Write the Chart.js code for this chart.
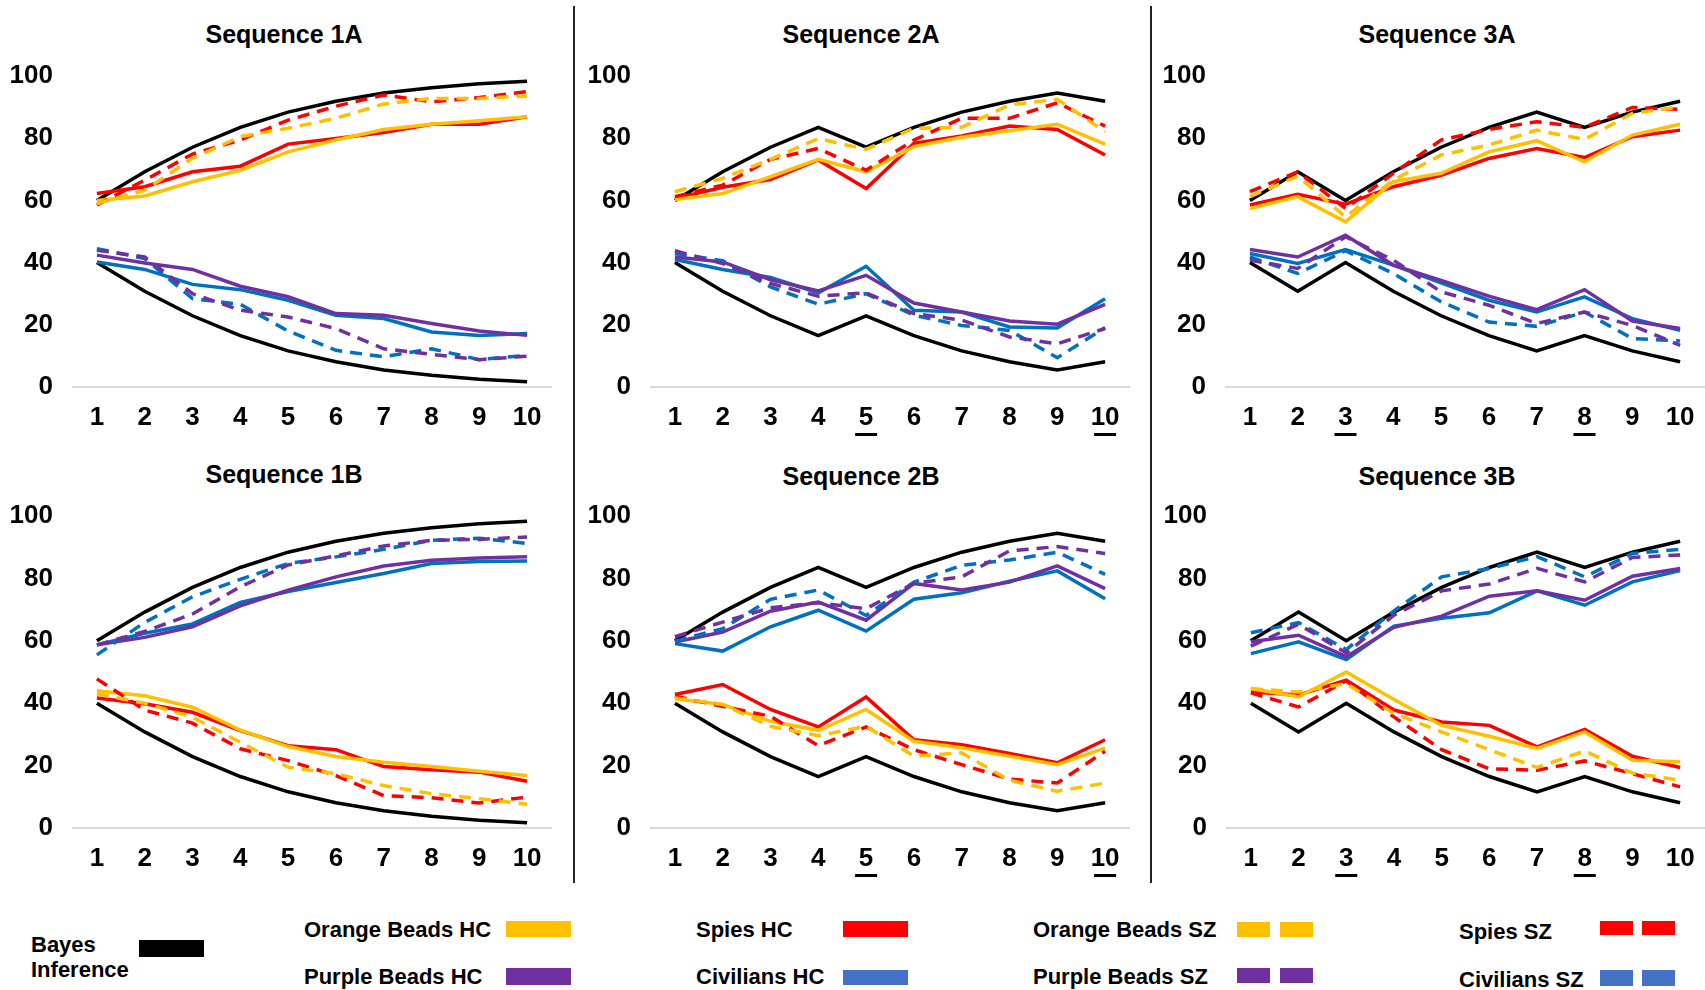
<!DOCTYPE html>
<html>
<head>
<meta charset="utf-8">
<script src="https://cdn.jsdelivr.net/npm/chart.js@4.4.1/dist/chart.umd.min.js"></script>
<style>
  body { margin: 0; background: #fff; font-family: "Liberation Sans", Arial, sans-serif; }
  #page { position: relative; width: 1705px; height: 990px; overflow: hidden; background: #fff; }
  canvas { position: absolute; }
  .title { position: absolute; font-weight: bold; font-size: 25px; transform: translate(-50%, -50%); white-space: nowrap; }
  .sep { position: absolute; width: 2px; background: #222; top: 6px; height: 877px; }
  .lg { position: absolute; font-weight: bold; font-size: 22px; line-height: 24px; white-space: nowrap; transform: translateY(-50%); }
  .sw { position: absolute; }
</style>
</head>
<body>
<div id="page">
  <div class="sep" style="left:573px"></div>
  <div class="sep" style="left:1150px"></div>

  <div class="title" style="left:284px;top:34px">Sequence 1A</div>
  <div class="title" style="left:861px;top:34px">Sequence 2A</div>
  <div class="title" style="left:1437px;top:34px">Sequence 3A</div>
  <div class="title" style="left:284px;top:474px">Sequence 1B</div>
  <div class="title" style="left:861px;top:476px">Sequence 2B</div>
  <div class="title" style="left:1437px;top:476px">Sequence 3B</div>

  <canvas id="c1A"></canvas>
  <canvas id="c2A"></canvas>
  <canvas id="c3A"></canvas>
  <canvas id="c1B"></canvas>
  <canvas id="c2B"></canvas>
  <canvas id="c3B"></canvas>

  <!-- legend -->
  <div class="lg" style="left:31px;top:945px">Bayes</div>
  <div class="lg" style="left:31px;top:970px">Inference</div>
  <div class="sw" style="left:139px;top:940px;width:65px;height:17px;background:#000"></div>

  <div class="lg" style="left:304px;top:930px">Orange Beads HC</div>
  <div class="sw" style="left:506px;top:921px;width:65px;height:16px;background:#FFC000"></div>
  <div class="lg" style="left:304px;top:977px">Purple Beads HC</div>
  <div class="sw" style="left:506px;top:968px;width:65px;height:17px;background:#7030A0"></div>

  <div class="lg" style="left:696px;top:930px">Spies HC</div>
  <div class="sw" style="left:843px;top:921px;width:65px;height:16px;background:#FF0000"></div>
  <div class="lg" style="left:696px;top:977px">Civilians HC</div>
  <div class="sw" style="left:843px;top:970px;width:65px;height:15px;background:#4472C4"></div>

  <div class="lg" style="left:1033px;top:930px">Orange Beads SZ</div>
  <div class="sw" style="left:1237px;top:922px;width:33px;height:15px;background:#FFC000"></div>
  <div class="sw" style="left:1280px;top:922px;width:33px;height:15px;background:#FFC000"></div>
  <div class="lg" style="left:1033px;top:977px">Purple Beads SZ</div>
  <div class="sw" style="left:1237px;top:968px;width:33px;height:15px;background:#7030A0"></div>
  <div class="sw" style="left:1280px;top:968px;width:33px;height:15px;background:#7030A0"></div>

  <div class="lg" style="left:1459px;top:932px">Spies SZ</div>
  <div class="sw" style="left:1600px;top:921px;width:33px;height:14px;background:#FF0000"></div>
  <div class="sw" style="left:1642px;top:921px;width:33px;height:14px;background:#FF0000"></div>
  <div class="lg" style="left:1459px;top:980px">Civilians SZ</div>
  <div class="sw" style="left:1600px;top:970px;width:33px;height:16px;background:#4472C4"></div>
  <div class="sw" style="left:1642px;top:970px;width:33px;height:16px;background:#4472C4"></div>
</div>

<script>
// ---- data (percent) ----
const xLabels = ["1", "2", "3", "4", "5", "6", "7", "8", "9", "10"];
const yMin = 0, yMax = 100, yStep = 20;

// Bayes inference (black)
const bayesUp1  = [60, 69.2, 77.1, 83.5, 88.4, 91.9, 94.5, 96.2, 97.5, 98.3];
const bayesLow1 = [40, 30.8, 22.9, 16.5, 11.6, 8.1, 5.5, 3.8, 2.5, 1.7];
const bayesUp2  = [60, 69.2, 77.1, 83.5, 77.1, 83.5, 88.4, 91.9, 94.5, 91.9];
const bayesLow2 = [40, 30.8, 22.9, 16.5, 22.9, 16.5, 11.6, 8.1, 5.5, 8.1];
const bayesUp3  = [60, 69.2, 60, 69.2, 77.1, 83.5, 88.4, 83.5, 88.4, 91.9];
const bayesLow3 = [40, 30.8, 40, 30.8, 22.9, 16.5, 11.6, 16.5, 11.6, 8.1];

// Sequence 1A
const orangeHC_1A = [60, 61.4, 66, 69.7, 75.6, 79.4, 82.8, 84.5, 85.6, 86.9];
const spiesHC_1A  = [62.2, 64.4, 69.2, 71, 78.1, 79.9, 81.8, 84.5, 84.5, 86.9];
const orangeSZ_1A = [59, 63.3, 73.5, 80.5, 83.2, 86.4, 91, 92.8, 92.8, 93.6];
const spiesSZ_1A  = [58.5, 66.5, 74.9, 79.4, 85.8, 90.3, 93.9, 91.7, 93.1, 95];
const purpleHC_1A = [42.4, 39.9, 37.8, 32.4, 29, 23.6, 23.1, 20.4, 18, 16.6];
const civHC_1A    = [40.2, 37.8, 33, 31.3, 27.9, 23.1, 22, 17.7, 16.6, 17.2];
const purpleSZ_1A = [44, 41.8, 30, 24.7, 22.5, 18.8, 12.3, 10.5, 8.8, 9.9];
const civSZ_1A    = [44.5, 41.3, 28.4, 26.6, 18, 11.8, 9.7, 12.3, 8.8, 10.2];

// Sequence 2A
const orangeHC_2A = [60.3, 62.2, 67.6, 73.2, 69.2, 77.3, 80.3, 82.4, 84.5, 78.1];
const spiesHC_2A  = [60.6, 64.2, 66.7, 73, 63.8, 78.3, 80.7, 83.9, 82.8, 74.6];
const orangeSZ_2A = [62.8, 67.1, 73.2, 79.9, 76.4, 83.2, 83.5, 90.7, 92.5, 82.1];
const spiesSZ_2A  = [61.2, 64.9, 73.2, 76.7, 69.7, 79.4, 86.4, 86.4, 91.4, 83.9];
const purpleHC_2A = [41.8, 40.2, 34.5, 30.9, 35.9, 27, 24.1, 21.2, 20.2, 26.6];
const civHC_2A    = [41, 37.8, 35.2, 30.3, 38.8, 24.7, 24.1, 19.3, 19, 28.4];
const purpleSZ_2A = [43.8, 39.7, 33.3, 29.2, 30.3, 23.6, 21.5, 16.1, 13.9, 18.8];
const civSZ_2A    = [42.9, 40.6, 32.2, 26.6, 30, 23.1, 19.8, 18.2, 9.4, 19.1];

// Sequence 3A
const orangeHC_3A = [57.4, 61.2, 53.1, 66, 68.7, 75.6, 79.2, 72.4, 81, 84.5];
const spiesHC_3A  = [58.5, 62, 58.8, 64.4, 68.1, 73.5, 76.7, 73.8, 80.5, 82.6];
const orangeSZ_3A = [61.2, 67.8, 54.7, 66.5, 74.6, 77.8, 82.6, 79.6, 88, 90.1];
const spiesSZ_3A  = [62.8, 69.2, 57.4, 68.7, 79.4, 82.8, 85.3, 83.5, 89.9, 89.3];
const purpleHC_3A = [44.2, 41.8, 48.8, 39.2, 34.3, 29.2, 24.9, 31.3, 21.2, 18.8];
const civHC_3A    = [42.9, 39.7, 44.2, 39.2, 33.5, 27.9, 24.1, 29, 22, 18.2];
const purpleSZ_3A = [40.8, 38.1, 48.3, 40.8, 30.6, 26.3, 20.4, 24.1, 19.8, 13.4];
const civSZ_3A    = [41.8, 36.5, 43.8, 36.5, 27.4, 20.9, 19.5, 24.1, 15.6, 14.8];

// Sequence 1B
const purpleHC_1B = [58.7, 61.1, 64.5, 71.2, 76.2, 80.5, 84, 85.8, 86.5, 86.9];
const civHC_1B    = [58.7, 62.4, 65.4, 72.3, 75.8, 78.7, 81.6, 84.8, 85.4, 85.6];
const purpleSZ_1B = [58.7, 63, 68.6, 77.3, 84.3, 87.2, 90.4, 92.2, 92.5, 93.3];
const civSZ_1B    = [55.5, 65.9, 74.1, 79.7, 84.8, 86.9, 89.3, 92.2, 92.9, 91.2];
const orangeHC_1B = [44, 42.4, 38.7, 31.4, 26.1, 22.9, 21.1, 19.7, 18.2, 16.8];
const spiesHC_1B  = [41.7, 39.8, 37.1, 31.2, 26.4, 25.1, 19.7, 18.7, 17.9, 15];
const orangeSZ_1B = [43, 40, 35.5, 27.5, 19.5, 17.4, 13.6, 11, 9.4, 7.6];
const spiesSZ_1B  = [47.8, 37.8, 33.6, 25.4, 21.6, 16.8, 10.4, 9.7, 8, 9.9];

// Sequence 2B
const purpleHC_2B = [59.6, 62.8, 69.5, 72.4, 66.6, 78.4, 76.3, 78.8, 84, 76.7];
const civHC_2B    = [59.1, 56.7, 64.5, 69.8, 63.1, 73.3, 75.4, 79.1, 82.4, 73.5];
const purpleSZ_2B = [61.3, 66, 70.6, 72.2, 70.3, 78.4, 80.5, 88.8, 90.2, 88];
const civSZ_2B    = [59.9, 63.9, 73.3, 76.3, 68.1, 78.8, 84.2, 85.9, 88.4, 81.3];
const orangeHC_2B = [41.4, 39.6, 34.2, 31.3, 38, 27.8, 25.7, 23, 20.3, 25.7];
const spiesHC_2B  = [42.8, 46, 38, 32.4, 42, 28.3, 26.7, 23.9, 20.9, 28.3];
const orangeSZ_2B = [41.7, 39.6, 32.6, 29.6, 32.6, 23, 24.1, 15.3, 11.8, 14.4];
const spiesSZ_2B  = [42.2, 39, 35.8, 26.4, 32.4, 25.1, 20.3, 15.7, 14.4, 24.6];

// Sequence 3B
const purpleHC_3B = [59.7, 61.8, 54.9, 64.3, 67.9, 74.3, 76, 73, 80.7, 83.2];
const civHC_3B    = [55.9, 59.7, 54, 64.7, 67.2, 69, 76, 71.4, 78.9, 82.5];
const purpleSZ_3B = [58.3, 65.3, 56.1, 68.2, 76, 78.2, 83.2, 78.9, 86.7, 87.5];
const civSZ_3B    = [62.6, 65.8, 57.2, 69.6, 80.5, 83.2, 87, 80.5, 88, 89.3];
const orangeHC_3B = [44.7, 42, 50, 41.2, 32.9, 29.4, 25.5, 30.8, 21.7, 21.2];
const spiesHC_3B  = [43.6, 42.6, 47.4, 37.8, 34, 32.9, 26, 31.6, 23, 19.4];
const orangeSZ_3B = [44.7, 43.6, 46.3, 36.7, 30.8, 25.1, 19.4, 24.7, 17.6, 15.3];
const spiesSZ_3B  = [43.3, 38.8, 47.2, 35.6, 25.1, 19, 18.5, 21.5, 17.4, 13.2];

// ---- styling ----
const colors = { bayes: "#000000", orange: "#FFC000", spies: "#FF0000", purple: "#7030A0", civ: "#0070C0" };
const FONT = "'Liberation Sans', Arial, sans-serif";

function ds(data, color, dashed) {
  return {
    data,
    borderColor: color,
    borderWidth: 3.5,
    borderDash: dashed ? [12, 8] : [],
    pointRadius: 0,
    tension: 0,
    fill: false
  };
}

// underline some x tick labels (the "disconfirming" draws)
const underlinePlugin = {
  id: "underline",
  afterDraw(chart, args, opts) {
    const idx = opts.ticks || [];
    if (!idx.length) return;
    const x = chart.scales.x, ctx = chart.ctx;
    ctx.save();
    ctx.fillStyle = "#000";
    idx.forEach(i => {
      const px = x.getPixelForTick(i);
      ctx.fillRect(px - 11, chart.chartArea.bottom + opts.offset, 22, 3);
    });
    ctx.restore();
  }
};

// kill the automatic label overflow padding so the chart area lands where we want
function noPad(s) {
  s.paddingTop = 0; s.paddingBottom = 0; s.paddingLeft = 0; s.paddingRight = 0;
}

function makePanel(id, area, datasets, under, rightPad) {
  const yW = 73, xH = 60, topPad = 25;
  const L = area.left - yW, T = area.top - topPad;
  const W = area.right - L + rightPad, H = area.bottom - T + xH;
  const cv = document.getElementById(id);
  cv.style.left = L + "px";
  cv.style.top = T + "px";
  cv.width = W; cv.height = H;
  cv.style.width = W + "px"; cv.style.height = H + "px";

  new Chart(cv, {
    type: "line",
    data: { labels: xLabels, datasets },
    plugins: [underlinePlugin],
    options: {
      responsive: false,
      animation: false,
      events: [],
      layout: { padding: { top: topPad, right: rightPad, left: 0, bottom: 0 } },
      plugins: {
        legend: { display: false },
        tooltip: { enabled: false },
        underline: { ticks: under, offset: 46 }
      },
      scales: {
        x: {
          offset: true,
          grid: { display: false, drawTicks: false },
          border: { display: true, color: "#d9d9d9", width: 2 },
          ticks: { color: "#000", padding: 15, maxRotation: 0, autoSkip: false,
                   font: { family: FONT, size: 26, weight: "bold" } },
          afterFit: s => { s.height = xH; noPad(s); }
        },
        y: {
          min: yMin, max: yMax,
          grid: { display: false, drawTicks: false },
          border: { display: false },
          ticks: { stepSize: yStep, color: "#000", padding: 20,
                   font: { family: FONT, size: 26, weight: "bold" } },
          afterFit: s => { s.width = yW; noPad(s); }
        }
      }
    }
  });
}

function panelA(bUp, bLow, oHC, sHC, oSZ, sSZ, pHC, cHC, pSZ, cSZ) {
  return [
    ds(oSZ, colors.orange, true), ds(sSZ, colors.spies, true),
    ds(pSZ, colors.purple, true), ds(cSZ, colors.civ, true),
    ds(oHC, colors.orange, false), ds(sHC, colors.spies, false),
    ds(pHC, colors.purple, false), ds(cHC, colors.civ, false),
    ds(bUp, colors.bayes, false), ds(bLow, colors.bayes, false)
  ];
}

const topRow = { top: 76, bottom: 387 };
const botRow = { top: 516, bottom: 828 };

makePanel("c1A", { left: 73, right: 551, ...topRow },
  panelA(bayesUp1, bayesLow1, orangeHC_1A, spiesHC_1A, orangeSZ_1A, spiesSZ_1A, purpleHC_1A, civHC_1A, purpleSZ_1A, civSZ_1A), [], 16);
makePanel("c2A", { left: 651, right: 1129, ...topRow },
  panelA(bayesUp2, bayesLow2, orangeHC_2A, spiesHC_2A, orangeSZ_2A, spiesSZ_2A, purpleHC_2A, civHC_2A, purpleSZ_2A, civSZ_2A), [4, 9], 16);
makePanel("c3A", { left: 1226, right: 1704, ...topRow },
  panelA(bayesUp3, bayesLow3, orangeHC_3A, spiesHC_3A, orangeSZ_3A, spiesSZ_3A, purpleHC_3A, civHC_3A, purpleSZ_3A, civSZ_3A), [2, 7], 1);

makePanel("c1B", { left: 73, right: 551, ...botRow },
  panelA(bayesUp1, bayesLow1, orangeHC_1B, spiesHC_1B, orangeSZ_1B, spiesSZ_1B, purpleHC_1B, civHC_1B, purpleSZ_1B, civSZ_1B), [], 16);
makePanel("c2B", { left: 651, right: 1129, ...botRow },
  panelA(bayesUp2, bayesLow2, orangeHC_2B, spiesHC_2B, orangeSZ_2B, spiesSZ_2B, purpleHC_2B, civHC_2B, purpleSZ_2B, civSZ_2B), [4, 9], 16);
makePanel("c3B", { left: 1227, right: 1704, ...botRow },
  panelA(bayesUp3, bayesLow3, orangeHC_3B, spiesHC_3B, orangeSZ_3B, spiesSZ_3B, purpleHC_3B, civHC_3B, purpleSZ_3B, civSZ_3B), [2, 7], 1);
</script>
</body>
</html>
